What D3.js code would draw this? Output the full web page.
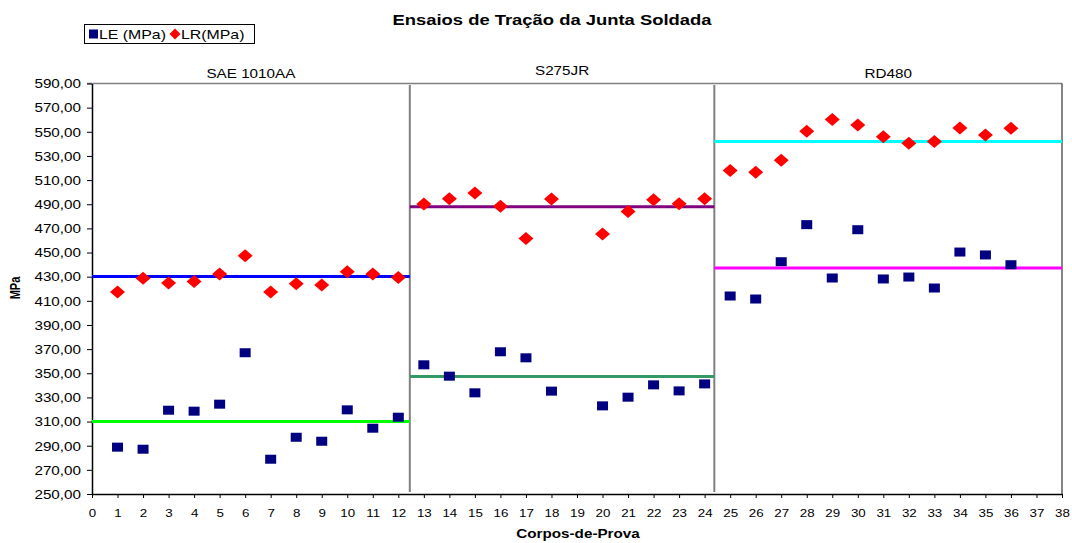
<!DOCTYPE html>
<html>
<head>
<meta charset="utf-8">
<script src="https://cdn.jsdelivr.net/npm/d3@7"></script>
<style>
  html, body { margin: 0; padding: 0; background: #fff; }
  svg { display: block; font-family: Arial, "Liberation Sans", sans-serif; }
</style>
</head>
<body>
<svg id="chart" width="1072" height="543"></svg>
<script>
// Specimen numbers per material group
const specimens = [
  [1, 2, 3, 4, 5, 6, 7, 8, 9, 10, 11, 12],
  [13, 14, 15, 16, 17, 18, 20, 21, 22, 23, 24],
  [25, 26, 27, 28, 29, 30, 31, 32, 33, 34, 35, 36]
];
// Yield strength LE (MPa)
const leValues = [
  [288.8, 287.1, 319.4, 318.6, 324.4, 367.0, 278.8, 297.0, 293.7, 319.7, 304.5, 313.6],
  [357.0, 347.6, 333.8, 367.8, 362.8, 335.2, 323.0, 330.2, 340.4, 335.4, 341.2],
  [414.0, 411.5, 442.4, 473.1, 428.9, 468.9, 428.1, 429.7, 420.6, 450.4, 448.0, 439.9]
];
// Ultimate tensile strength LR (MPa)
const lrSpecimens = [
  [1, 2, 3, 4, 5, 6, 7, 8, 9, 10, 11, 12],
  [13, 14, 15, 16, 17, 18, 20, 21, 22, 23, 24],
  [25, 26, 27, 28, 29, 30, 31, 32, 33, 34, 35, 36]
];
const lrValues = [
  [417.3, 428.6, 424.7, 426.1, 432.2, 447.4, 417.3, 424.2, 423.1, 434.1, 432.2, 429.4],
  [490.2, 494.6, 499.3, 488.3, 461.7, 494.4, 465.4, 483.9, 493.8, 490.5, 494.6],
  [517.9, 516.5, 526.4, 550.5, 560.1, 555.7, 545.8, 540.5, 541.9, 553.2, 547.4, 552.9]
];
// Material groups and their average lines
const materials = ["SAE 1010AA", "S275JR", "RD480"];
const groupBounds = [[0, 12.45], [12.45, 24.38], [24.38, 38]];
const lrMeans = [430.2, 488.0, 541.9];
const leMeans = [310.0, 347.3, 437.2];
const lrMeanColors = ["#0000ff", "#800080", "#00ffff"];
const leMeanColors = ["#00ff00", "#339966", "#ff00ff"];
// Axis ticks
const yTicks = [250, 270, 290, 310, 330, 350, 370, 390, 410, 430, 450, 470, 490, 510, 530, 550, 570, 590];
const xTicks = d3.range(0, 39);

const title = "Ensaios de Tração da Junta Soldada";
const xTitle = "Corpos-de-Prova";
const yTitle = "MPa";
const legendLabels = ["LE (MPa)", "LR(MPa)"];

const SX = 1.27; // horizontal text widening
const svg = d3.select("#chart");

const x = d3.scaleLinear().domain([0, 38]).range([92, 1062]);
const y = d3.scaleLinear().domain([250, 590]).range([494, 83.5]);

function wideText(g, str, px, py, opts) {
  const t = g.append("text")
    .attr("transform", `translate(${px},${py}) scale(${SX},1)`)
    .attr("text-anchor", opts.anchor || "middle")
    .attr("font-size", opts.size)
    .attr("font-weight", opts.weight || "normal")
    .attr("fill", "#000")
    .text(str);
  return t;
}

// Title
wideText(svg, title, 552, 25, { size: 14.5, weight: "bold" });

// Plot frame: top (gray) and right edges
svg.append("line").attr("x1", 87).attr("x2", x(38)).attr("y1", y(590)).attr("y2", y(590))
  .attr("stroke", "#808080").attr("stroke-width", 1.5);
svg.append("line").attr("x1", x(38)).attr("x2", x(38)).attr("y1", y(590)).attr("y2", y(250))
  .attr("stroke", "#333").attr("stroke-width", 1.2);

// Group dividers
svg.append("g").selectAll("line").data(groupBounds.slice(1))
  .join("line")
  .attr("x1", d => x(d[0])).attr("x2", d => x(d[0]))
  .attr("y1", y(590) + 1.5).attr("y2", y(250) - 2)
  .attr("stroke", "#808080").attr("stroke-width", 2);

// Material labels
const labelOffsets = [78, 75, 78];
materials.forEach((m, i) => {
  const cx = (x(groupBounds[i][0]) + x(groupBounds[i][1])) / 2;
  wideText(svg, m, cx, labelOffsets[i], { size: 12 });
});

// Y axis
const yAxis = svg.append("g").attr("transform", `translate(${x(0)},0)`)
  .call(d3.axisLeft(y).tickValues(yTicks).tickSize(5).tickSizeOuter(0)
    .tickFormat(d => d3.format(".2f")(d).replace(".", ",")));
yAxis.select(".domain").attr("stroke", "#000").attr("stroke-width", 1.5);
yAxis.selectAll(".tick line").attr("stroke", "#000");
yAxis.selectAll(".tick text")
  .attr("x", null).attr("dy", null)
  .attr("transform", `translate(-11,4.3) scale(${SX},1)`)
  .attr("font-size", 12).attr("font-family", null).attr("fill", "#000");

// X axis
const xAxis = svg.append("g").attr("transform", `translate(0,${y(250)})`)
  .call(d3.axisBottom(x).tickValues(xTicks).tickSize(4).tickSizeOuter(0).tickFormat(d3.format("d")));
xAxis.select(".domain").attr("stroke", "#000").attr("stroke-width", 1.5);
xAxis.selectAll(".tick line").attr("stroke", "#000");
xAxis.selectAll(".tick text")
  .attr("y", null).attr("dy", null)
  .attr("transform", `translate(0,23) scale(${SX},1)`)
  .attr("font-size", 10.5).attr("font-family", null).attr("fill", "#000");

// Axis titles
wideText(svg, xTitle, 578, 538, { size: 12, weight: "bold" });
svg.append("text")
  .attr("transform", `translate(20,288) scale(${SX},1) rotate(-90)`)
  .attr("text-anchor", "middle").attr("font-size", 11).attr("font-weight", "bold")
  .text(yTitle);

// Average lines
const meanG = svg.append("g");
groupBounds.forEach((b, i) => {
  meanG.append("line").attr("x1", x(b[0])).attr("x2", x(b[1]))
    .attr("y1", y(lrMeans[i])).attr("y2", y(lrMeans[i]))
    .attr("stroke", lrMeanColors[i]).attr("stroke-width", 3);
  meanG.append("line").attr("x1", x(b[0])).attr("x2", x(b[1]))
    .attr("y1", y(leMeans[i])).attr("y2", y(leMeans[i]))
    .attr("stroke", leMeanColors[i]).attr("stroke-width", 3);
});

// Markers
const lePts = specimens.flatMap((g, i) => g.map((s, j) => ({ s, v: leValues[i][j] })));
const lrPts = lrSpecimens.flatMap((g, i) => g.map((s, j) => ({ s, v: lrValues[i][j] })));

const diamond = "M0,-6.5 L7.5,0 L0,6.5 L-7.5,0 Z";
svg.append("g").selectAll("path").data(lrPts).join("path")
  .attr("transform", d => `translate(${x(d.s)},${y(d.v)})`)
  .attr("d", diamond).attr("fill", "#ff0000");

svg.append("g").selectAll("rect").data(lePts).join("rect")
  .attr("x", d => x(d.s) - 5.5).attr("y", d => y(d.v) - 4.5)
  .attr("width", 11).attr("height", 9).attr("fill", "#000080");

// Legend
const lg = svg.append("g");
lg.append("rect").attr("x", 84.5).attr("y", 24.5).attr("width", 170).attr("height", 19)
  .attr("fill", "#fff").attr("stroke", "#000").attr("stroke-width", 1);
lg.append("rect").attr("x", 89).attr("y", 29.5).attr("width", 9).attr("height", 9).attr("fill", "#000080");
wideText(lg, legendLabels[0], 99, 39, { size: 12.5, anchor: "start" });
lg.append("path").attr("transform", "translate(175,34)")
  .attr("d", "M0,-5.5 L5.5,0 L0,5.5 L-5.5,0 Z").attr("fill", "#ff0000");
wideText(lg, legendLabels[1], 181, 39, { size: 12.5, anchor: "start" });
</script>
</body>
</html>
